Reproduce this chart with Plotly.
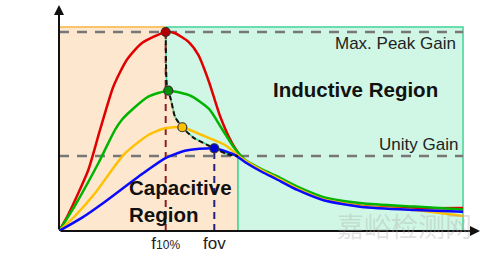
import plotly.graph_objects as go

# ---------------- data (normalised frequency, gain) ----------------
red_x = [0, 0.23, 0.725, 1.015, 1.344, 1.676, 2.047, 2.641, 2.871, 3.2, 3.448, 3.713, 3.985, 4.282,
         4.6, 5.05, 5.35, 5.9, 6.55, 7.5, 8.8, 10.0]
red_y = [0, 0.22, 0.813, 1.347, 1.924, 2.28, 2.503, 2.653, 2.636, 2.524, 2.347, 1.987, 1.533, 1.173,
         0.93, 0.79, 0.715, 0.56, 0.42, 0.335, 0.305, 0.305]

green_x = [0, 0.396, 0.973, 1.386, 1.552, 1.8, 2.21, 2.705, 3.267, 3.713, 4.035, 4.332,
           4.6, 5.05, 5.35, 5.9, 6.55, 7.5, 8.8, 10.0]
green_y = [0, 0.34, 0.903, 1.347, 1.48, 1.613, 1.791, 1.871, 1.8, 1.627, 1.36, 1.113,
           0.95, 0.815, 0.74, 0.59, 0.45, 0.37, 0.325, 0.285]

yellow_x = [0, 0.396, 0.891, 1.592, 2.21, 2.624, 3.052, 3.532, 4.109, 4.522,
            5.05, 5.35, 5.9, 6.55, 7.5, 8.8, 10.0]
yellow_y = [0, 0.2, 0.503, 1.013, 1.28, 1.369, 1.383, 1.28, 1.147, 0.969,
            0.80, 0.72, 0.565, 0.42, 0.33, 0.28, 0.20]

blue_x = [0, 0.562, 1.139, 1.963, 2.624, 3.119, 3.844, 4.356,
          4.6, 5.05, 5.35, 5.9, 6.55, 7.5, 8.8, 10.0]
blue_y = [0, 0.175, 0.391, 0.724, 0.969, 1.071, 1.103, 1.013,
          0.92, 0.78, 0.70, 0.547, 0.41, 0.32, 0.28, 0.255]

# locus of the peaks (boundary between capacitive and inductive regions)
locus_x = [2.641, 2.65, 2.666, 2.705, 2.772, 2.871, 3.052, 3.327, 3.844, 4.151, 4.43]
locus_y = [2.653, 2.2, 1.96, 1.871, 1.747, 1.524, 1.383, 1.244, 1.103, 1.027, 1.0]

unity_gain = 1.0
region_top = 2.72
x_end = 10.0
x_split = 4.43

tick_text = ['f<span style="font-size:12px">10%</span>', 'fov']

# ---------------- derived ----------------
curves = [
    ("red", red_x, red_y, "#E00000", "#B00000"),
    ("green", green_x, green_y, "#00B400", "#009000"),
    ("yellow", yellow_x, yellow_y, "#FFC000", "#FFC000"),
    ("blue", blue_x, blue_y, "#0A0AFF", "#0000DD"),
]
peaks = []
for name, xs, ys, col, mcol in curves:
    i = max(range(len(ys)), key=lambda k: ys[k])
    peaks.append((xs[i], ys[i], mcol))
max_peak = peaks[0][1]
f10_x = peaks[0][0]
fov_x, fov_y = peaks[3][0], peaks[3][1]

X_MAX = 10.42
Y_MAX = 3.013
FONT = "Liberation Sans, Arial, sans-serif"

fig = go.Figure()

# orange (capacitive) region
ox = [0, 0, locus_x[0]] + locus_x + [x_split, 0]
oy = [0, region_top, region_top] + locus_y + [0, 0]
fig.add_trace(go.Scatter(x=ox, y=oy, fill="toself", fillcolor="#FDE8CF",
                         line=dict(color="#F7B440", width=1.5, shape="linear"),
                         mode="lines", hoverinfo="skip"))
# green (inductive) region
gx = [locus_x[0], x_end, x_end, x_split] + locus_x[::-1] + [locus_x[0]]
gy = [region_top, region_top, 0, 0] + locus_y[::-1] + [region_top]
fig.add_trace(go.Scatter(x=gx, y=gy, fill="toself", fillcolor="#D0F7E5",
                         line=dict(color="#40D596", width=1.5),
                         mode="lines", hoverinfo="skip"))

# gray dashed reference lines
for yv in (max_peak, unity_gain):
    fig.add_trace(go.Scatter(x=[0, x_end], y=[yv, yv], mode="lines",
                             line=dict(color="#777777", width=2.6, dash="10px,8px"),
                             hoverinfo="skip"))

# vertical dashed lines
fig.add_trace(go.Scatter(x=[f10_x, f10_x], y=[0, max_peak], mode="lines",
                         line=dict(color="#8B2020", width=2, dash="7px,5px"), hoverinfo="skip"))
fig.add_trace(go.Scatter(x=[fov_x, fov_x], y=[0, fov_y], mode="lines",
                         line=dict(color="#202080", width=2, dash="7px,5px"), hoverinfo="skip"))

# gain curves
for name, xs, ys, col, mcol in curves:
    fig.add_trace(go.Scatter(x=xs, y=ys, mode="lines",
                             line=dict(color=col, width=2.5, shape="spline", smoothing=0.6),
                             hoverinfo="skip"))

# locus
fig.add_trace(go.Scatter(x=locus_x, y=locus_y, mode="lines",
                         line=dict(color="#111111", width=2, dash="5px,3px", shape="spline", smoothing=0.7),
                         hoverinfo="skip"))

# peak markers
fig.add_trace(go.Scatter(x=[p[0] for p in peaks], y=[p[1] for p in peaks], mode="markers",
                         marker=dict(size=9, color=[p[2] for p in peaks],
                                     line=dict(color="#333333", width=1.2)),
                         hoverinfo="skip", cliponaxis=False))

annotations = [
    # axes arrows
    dict(x=X_MAX, y=0, ax=0, ay=0, xref="x", yref="y", axref="x", ayref="y", text="",
         showarrow=True, arrowhead=2, arrowwidth=2, arrowsize=1, arrowcolor="#111111"),
    dict(x=0, y=Y_MAX, ax=0, ay=0, xref="x", yref="y", axref="x", ayref="y", text="",
         showarrow=True, arrowhead=2, arrowwidth=2, arrowsize=1, arrowcolor="#111111"),
    dict(x=-0.8, y=1.457, text="Gain", showarrow=False, xanchor="center", yanchor="middle",
         font=dict(size=17, color="#222222", family=FONT)),
    dict(x=9.884, y=2.503, text="Max. Peak Gain", showarrow=False, xanchor="right", yanchor="middle",
         font=dict(size=17, color="#222222", family=FONT)),
    dict(x=9.926, y=1.147, text="Unity Gain", showarrow=False, xanchor="right", yanchor="middle",
         font=dict(size=17, color="#222222", family=FONT)),
    dict(x=7.334, y=1.88, text="<b>Inductive Region</b>", showarrow=False, xanchor="center",
         yanchor="middle", font=dict(size=20.5, color="#111111", family=FONT)),
    dict(x=1.676, y=0.403, text="<b>Capacitive<br>Region</b>", showarrow=False, xanchor="left",
         yanchor="middle", align="left", font=dict(size=20.5, color="#111111", family=FONT)),
    dict(x=9.06, y=-0.164, text="Frequency", showarrow=False, xanchor="center", yanchor="middle",
         font=dict(size=17, color="#222222", family=FONT)),
    # watermark
    dict(x=8.56, y=0.08, text="嘉峪检测网", showarrow=False, xanchor="center", yanchor="middle",
         font=dict(size=27, color="rgba(170,170,170,0.35)", family="Noto Sans CJK SC")),
    dict(x=8.56, y=-0.28, text="AnyTesting.com", showarrow=False, xanchor="center", yanchor="middle",
         font=dict(size=19, color="rgba(170,170,170,0.35)", family=FONT, style="italic", weight="bold")),
]

fig.update_layout(
    width=487, height=269,
    margin=dict(l=59, r=7, t=5, b=38),
    paper_bgcolor="white", plot_bgcolor="white",
    showlegend=False,
    annotations=annotations,
    xaxis=dict(range=[0, X_MAX], showgrid=False, zeroline=False, showline=False,
               tickvals=[f10_x, fov_x], ticktext=tick_text, ticks="",
               tickfont=dict(size=17, color="#222222", family=FONT), fixedrange=True),
    yaxis=dict(range=[0, Y_MAX], visible=False, fixedrange=True),
)

fig.write_html("out.html")
